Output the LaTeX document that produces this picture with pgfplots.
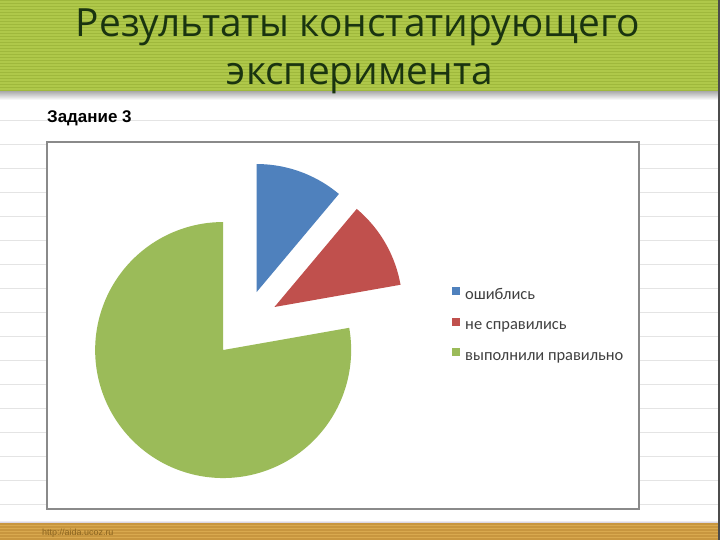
\documentclass[border=0pt]{standalone}
\usepackage{pgfplots}
\pgfplotsset{compat=1.18}
\usepackage{pgfplotstable}
\usepackage{fontspec}
\setmainfont{Liberation Sans}
\newfontfamily\titlefont{Open Sans}
\newfontfamily\legfont{Carlito}
\definecolor{pieblue}{HTML}{4F81BD}
\definecolor{piered}{HTML}{C0504D}
\definecolor{piegreen}{HTML}{9BBB59}
\definecolor{banA}{HTML}{AFC84A}
\definecolor{banB}{HTML}{9FB83C}
\definecolor{titlecol}{HTML}{1A3410}
\definecolor{ruled}{HTML}{E4E4E4}
\definecolor{tanA}{HTML}{D9A94F}
\definecolor{tanB}{HTML}{C8963F}
\definecolor{urlcol}{HTML}{8A6420}
\definecolor{legtext}{HTML}{404040}
\definecolor{framecol}{HTML}{8A8A8A}
\definecolor{shadowcol}{HTML}{B8B0C8}

% values: ошиблись, не справились, выполнили правильно
\pgfplotstableread{
value
3
3
21
}\piedata

\begin{document}
\begin{tikzpicture}[x=1bp,y=1bp]
\useasboundingbox (0,0) rectangle (720,540);
\fill[white] (0,0) rectangle (720,540);
% ruled lines
\foreach \k in {0,...,16} {\draw[ruled, line width=1bp] (0,{540-121-24*\k}) -- (720,{540-121-24*\k});}
% banner
\fill[banA] (0,448) rectangle (720,540);
\foreach \i in {0,...,30} {\fill[banB] (0,{540-3*\i-1.5}) rectangle (720,{540-3*\i});}
\shade[top color=black!30, bottom color=white] (0,440) rectangle (720,448);
% bottom band
\shade[top color=white, bottom color=shadowcol] (0,16) rectangle (720,20);
\fill[tanA] (0,0) rectangle (720,16);
\foreach \i in {0,...,5} {\fill[tanB] (0,{3*\i}) rectangle (720,{3*\i+1.5});}
\node[anchor=base west, inner sep=0, font=\fontsize{9}{10}\selectfont, text=urlcol] at (42,4) {http://aida.ucoz.ru};
% right border
\draw[black!70, line width=1.5bp] (719,0) -- (719,540);
% title
\node[anchor=base, inner sep=0, text=titlecol, font=\titlefont\fontsize{39}{41}\selectfont] at (358,503) {Результаты констатирующего};
\node[anchor=base, inner sep=0, text=titlecol, font=\titlefont\fontsize{39}{41}\selectfont] at (360,455) {эксперимента};
\node[anchor=base west, inner sep=0, font=\bfseries\fontsize{17}{19}\selectfont] at (47,417) {Задание 3};
% chart frame
\filldraw[fill=white, draw=framecol, line width=1.2bp] (47,31) rectangle (639,398);

% pie geometry from the data
\pgfplotstablegetelem{0}{value}\of\piedata \pgfmathsetmacro\va{\pgfplotsretval}
\pgfplotstablegetelem{1}{value}\of\piedata \pgfmathsetmacro\vb{\pgfplotsretval}
\pgfplotstablegetelem{2}{value}\of\piedata \pgfmathsetmacro\vc{\pgfplotsretval}
\pgfmathsetmacro\tot{\va+\vb+\vc}
\pgfmathsetmacro\aA{90}
\pgfmathsetmacro\aB{\aA-360*\va/\tot}
\pgfmathsetmacro\aC{\aB-360*\vb/\tot}
\pgfmathsetmacro\aD{\aC-360*\vc/\tot}
\def\cx{245}\def\cy{216}\def\R{128}\def\dd{34}
\pgfmathsetmacro\bx{\cx+\dd*cos((\aA+\aB)/2)}\pgfmathsetmacro\by{\cy+\dd*sin((\aA+\aB)/2)}
\pgfmathsetmacro\rx{\cx+\dd*cos((\aB+\aC)/2)}\pgfmathsetmacro\ry{\cy+\dd*sin((\aB+\aC)/2)}
\pgfmathsetmacro\gx{\cx+\dd*cos((\aC+\aD)/2)}\pgfmathsetmacro\gy{\cy+\dd*sin((\aC+\aD)/2)}

\begin{axis}[at={(0,0)}, anchor=origin, x=1bp, y=1bp,
  xmin=0, xmax=720, ymin=0, ymax=540, hide axis, clip=false,
  legend style={at={(axis cs:452,253)}, anchor=north west, draw=none, fill=none,
    inner sep=0pt, font=\legfont\fontsize{16.5}{18}\selectfont, text=legtext,
    row sep=14.5bp, column sep=5bp,
    nodes={inner sep=0pt, text height=12bp, text depth=4bp}},
  legend cell align=left,
  legend image code/.code={\fill[#1] (0bp,0bp) rectangle (8bp,8bp);}]
\addplot[draw=none, fill=pieblue, domain=\aB:\aA, samples=60]
  ({\bx+\R*cos(x)},{\by+\R*sin(x)}) -- (axis cs:\bx,\by) -- cycle;
\addlegendentry{ошиблись}
\addplot[draw=none, fill=piered, domain=\aC:\aB, samples=60]
  ({\rx+\R*cos(x)},{\ry+\R*sin(x)}) -- (axis cs:\rx,\ry) -- cycle;
\addlegendentry{не справились}
\addplot[draw=none, fill=piegreen, domain=\aD:\aC, samples=200]
  ({\gx+\R*cos(x)},{\gy+\R*sin(x)}) -- (axis cs:\gx,\gy) -- cycle;
\addlegendentry{выполнили правильно}
\end{axis}
\end{tikzpicture}
\end{document}
